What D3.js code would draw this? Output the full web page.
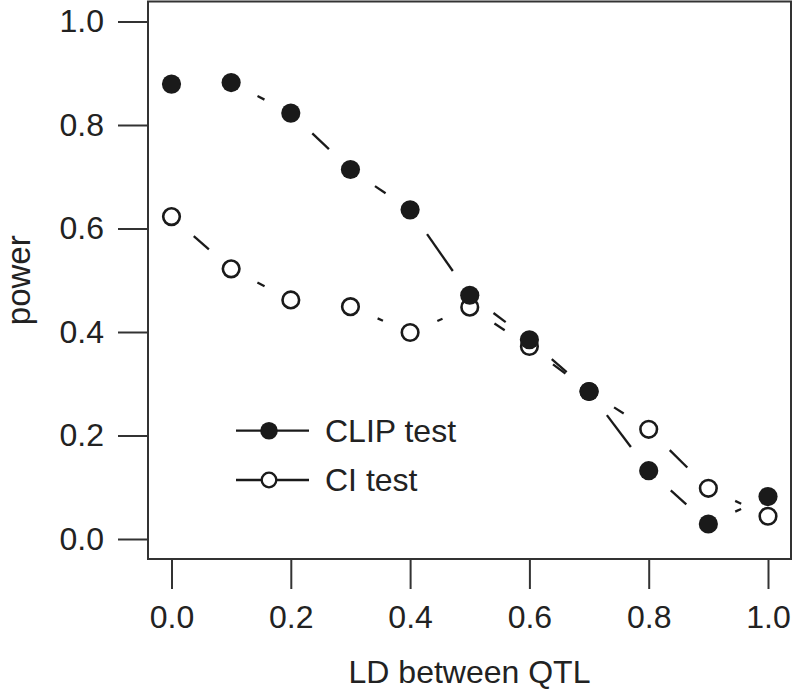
<!DOCTYPE html>
<html>
<head>
<meta charset="utf-8">
<script src="https://cdn.jsdelivr.net/npm/d3@7"></script>
<style>
  html, body { margin: 0; padding: 0; background: #fff; }
  svg { display: block; }
  text { font-family: "Liberation Sans", Arial, Helvetica, sans-serif; fill: #222; }
</style>
</head>
<body>
<svg id="chart" width="794" height="691"></svg>
<script>
// ---- data ----
const ldValues = [0.0, 0.1, 0.2, 0.3, 0.4, 0.5, 0.6, 0.7, 0.8, 0.9, 1.0];
const clipPower = [0.879, 0.882, 0.823, 0.714, 0.636, 0.471, 0.385, 0.285, 0.132, 0.029, 0.082];
const ciPower   = [0.623, 0.522, 0.462, 0.449, 0.399, 0.448, 0.372, 0.285, 0.212, 0.098, 0.044];
const xTicks = [0.0, 0.2, 0.4, 0.6, 0.8, 1.0];
const yTicks = [0.0, 0.2, 0.4, 0.6, 0.8, 1.0];
const seriesNames = ["CLIP test", "CI test"];
const xTitle = "LD between QTL";
const yTitle = "power";

// ---- layout ----
const svg = d3.select("#chart");
const box = { left: 148, top: 1.5, right: 791, bottom: 559 };
const x = d3.scaleLinear().domain([0, 1]).range([171.5, 768]);
const y = d3.scaleLinear().domain([0, 1]).range([539, 21.5]);
const ink = "#1a1a1a";
const axisInk = "#333";
const fontSize = 32;

// box
svg.append("rect")
  .attr("x", box.left).attr("y", box.top)
  .attr("width", box.right - box.left).attr("height", box.bottom - box.top)
  .attr("fill", "none").attr("stroke", axisInk).attr("stroke-width", 2);

// y axis
const yAxis = d3.axisLeft(y).tickValues(yTicks).tickSize(30).tickPadding(14)
  .tickFormat(d3.format(".1f"));
const gy = svg.append("g").attr("transform", `translate(${box.left},0)`).call(yAxis);
gy.select(".domain").attr("stroke", axisInk).attr("stroke-width", 2)
  .attr("d", `M0,${y(0)}V${y(1)}`);
gy.selectAll(".tick line").attr("stroke", axisInk).attr("stroke-width", 2);
gy.selectAll(".tick text").attr("font-size", fontSize)
  .attr("font-family", '"Liberation Sans", Arial, sans-serif').attr("fill", "#222");

// x axis
const xAxis = d3.axisBottom(x).tickValues(xTicks).tickSize(30).tickPadding(16)
  .tickFormat(d3.format(".1f"));
const gx = svg.append("g").attr("transform", `translate(0,${box.bottom})`).call(xAxis);
gx.select(".domain").attr("stroke", axisInk).attr("stroke-width", 2)
  .attr("d", `M${x(0)},0H${x(1)}`);
gx.selectAll(".tick line").attr("stroke", axisInk).attr("stroke-width", 2);
gx.selectAll(".tick text").attr("font-size", fontSize)
  .attr("font-family", '"Liberation Sans", Arial, sans-serif').attr("fill", "#222");

// titles
svg.append("text").attr("x", (box.left + box.right) / 2).attr("y", 683)
  .attr("text-anchor", "middle").attr("font-size", fontSize).text(xTitle);
svg.append("text").attr("transform", `translate(30,${(box.top + box.bottom) / 2}) rotate(-90)`)
  .attr("text-anchor", "middle").attr("font-size", 33).text(yTitle);

// lines with gaps around points (R type = "b")
const gap = 29.6;
const minVisible = 2.5;
function gappedSegments(vals) {
  const pts = ldValues.map((d, i) => [x(d), y(vals[i])]);
  const segs = [];
  for (let i = 0; i < pts.length - 1; i++) {
    const [x1, y1] = pts[i], [x2, y2] = pts[i + 1];
    const len = Math.hypot(x2 - x1, y2 - y1);
    if (len <= 2 * gap + minVisible) continue;
    const ux = (x2 - x1) / len, uy = (y2 - y1) / len;
    segs.push([[x1 + ux * gap, y1 + uy * gap], [x2 - ux * gap, y2 - uy * gap]]);
  }
  return segs;
}
const lineGen = d3.line();
[clipPower, ciPower].forEach(vals => {
  svg.append("g").selectAll("path").data(gappedSegments(vals)).join("path")
    .attr("d", d => lineGen(d))
    .attr("stroke", ink).attr("stroke-width", 2.3).attr("fill", "none")
    .attr("stroke-linecap", "butt");
});

// points: open first (white fill), filled on top
svg.append("g").selectAll("circle").data(ciPower).join("circle")
  .attr("cx", (d, i) => x(ldValues[i])).attr("cy", d => y(d))
  .attr("r", 8.3).attr("fill", "#fff").attr("stroke", ink).attr("stroke-width", 2.6);
svg.append("g").selectAll("circle").data(clipPower).join("circle")
  .attr("cx", (d, i) => x(ldValues[i])).attr("cy", d => y(d))
  .attr("r", 9.6).attr("fill", ink);

// legend
const legendY = [430.7, 480];
const leg = svg.append("g");
seriesNames.forEach((name, i) => {
  const g = leg.append("g").attr("transform", `translate(0,${legendY[i]})`);
  g.append("line").attr("x1", 236).attr("x2", 309).attr("y1", 0).attr("y2", 0)
    .attr("stroke", ink).attr("stroke-width", 2.3);
  if (i === 0) {
    g.append("circle").attr("cx", 269).attr("cy", 0).attr("r", 8.8).attr("fill", ink);
  } else {
    g.append("circle").attr("cx", 269).attr("cy", 0).attr("r", 7.3)
      .attr("fill", "#fff").attr("stroke", ink).attr("stroke-width", 2.3);
  }
  g.append("text").attr("x", 325).attr("y", 11).attr("font-size", fontSize).text(name);
});
</script>
</body>
</html>
